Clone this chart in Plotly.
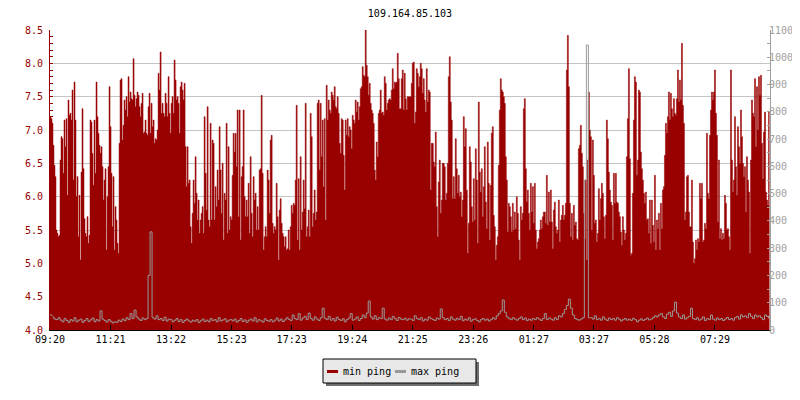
import plotly.graph_objects as go

title_text = "109.164.85.103"

tick_labels = ["09:20", "11:21", "13:22", "15:23", "17:23", "19:24",
               "21:25", "23:26", "01:27", "03:27", "05:28", "07:29"]
tick_minutes = [0, 121, 242, 363, 483, 604, 725, 846, 967, 1087, 1208, 1329]

series_names = ["min ping", "max ping"]

# min ping (left axis, ms) one sample every 2 minutes
min_ping = [
    7.2, 7.17, 7.1, 6.77, 6.47, 6.3, 5.5, 5.45, 5.4, 5.42,
    6.55, 6.9, 6.87, 6.35, 7.15, 6.75, 7.17, 6.02, 7.45, 7.22,
    7.25, 7.15, 7.6, 6.25, 7.72, 7.15, 6.0, 6.3, 5.4, 6.02,
    5.05, 6.37, 7.32, 6.42, 5.67, 5.45, 5.4, 5.7, 5.3, 5.42,
    7.15, 7.12, 6.65, 6.17, 7.15, 6.35, 7.72, 7.2, 6.95, 6.77,
    6.65, 6.75, 6.45, 5.95, 6.25, 6.42, 5.2, 6.0, 6.45, 7.65,
    7.05, 6.35, 5.55, 6.3, 5.2, 5.85, 5.65, 5.3, 5.15, 6.8,
    7.75, 7.77, 6.85, 7.07, 7.45, 7.3, 7.5, 7.2, 7.8, 7.42,
    7.57, 7.47, 7.45, 8.07, 7.52, 7.35, 7.47, 7.57, 7.52, 7.35,
    7.2, 7.4, 7.55, 6.95, 6.97, 7.15, 6.95, 6.92, 7.35, 7.55,
    6.95, 7.4, 7.05, 7.15, 6.8, 6.87, 6.85, 7.0, 7.85, 7.6,
    8.17, 7.25, 7.4, 7.25, 7.2, 7.55, 7.4, 7.2, 7.8, 7.25,
    6.95, 7.4, 7.5, 7.25, 8.05, 7.75, 7.45, 7.5, 7.4, 6.95,
    7.65, 7.72, 7.6, 7.45, 7.7, 6.75, 6.15, 6.75, 6.2, 6.25,
    5.55, 5.3, 5.75, 6.25, 5.9, 6.6, 6.05, 5.65, 5.95, 5.45,
    5.65, 5.75, 5.85, 5.45, 7.2, 6.35, 5.8, 7.35, 5.65, 5.55,
    7.1, 5.65, 6.85, 6.8, 5.65, 6.15, 5.85, 6.4, 5.95, 7.05,
    6.4, 5.75, 6.5, 5.35, 6.05, 5.95, 7.1, 5.45, 6.75, 5.5,
    5.7, 5.65, 6.32, 6.95, 6.67, 6.95, 6.45, 7.3, 5.7, 7.3,
    5.35, 6.3, 6.45, 7.3, 6.0, 5.7, 5.95, 5.7, 6.2, 5.45,
    6.6, 5.75, 5.4, 6.3, 5.95, 6.05, 5.5, 5.85, 5.5, 6.4,
    6.42, 7.52, 6.35, 5.2, 5.4, 5.55, 5.4, 6.4, 6.25, 5.75,
    6.85, 6.92, 5.6, 5.45, 5.55, 5.5, 6.2, 5.7, 5.05, 5.8,
    5.97, 5.6, 5.45, 5.4, 5.25, 5.4, 5.2, 5.22, 5.5, 5.2,
    5.55, 5.87, 5.75, 5.9, 5.87, 6.25, 7.37, 5.35, 6.27, 5.2,
    6.6, 5.5, 5.77, 6.25, 5.82, 7.4, 5.4, 5.55, 5.8, 5.4,
    7.25, 6.9, 5.55, 5.75, 6.1, 5.65, 5.77, 7.4, 7.45, 6.4,
    7.4, 6.6, 7.15, 6.15, 7.17, 5.65, 7.67, 7.15, 7.45, 7.3,
    7.25, 7.57, 7.52, 7.45, 7.65, 7.35, 7.32, 7.5, 7.25, 6.8,
    6.65, 7.17, 7.15, 6.62, 6.1, 7.15, 6.92, 7.17, 6.9, 7.05,
    7.0, 6.72, 7.22, 7.15, 7.1, 7.45, 7.27, 7.42, 7.15, 7.35,
    7.62, 7.65, 7.95, 7.82, 7.8, 8.5, 7.97, 7.8, 7.52, 7.7,
    7.4, 7.3, 7.25, 7.1, 6.4, 6.25, 6.82, 6.6, 7.25, 7.3,
    7.6, 7.25, 7.27, 7.22, 7.8, 7.7, 7.3, 7.4, 7.45, 7.47,
    7.45, 7.6, 7.92, 7.62, 7.72, 7.7, 7.72, 8.15, 7.77, 7.32,
    7.32, 7.77, 7.9, 7.3, 7.85, 7.47, 7.3, 7.5, 7.5, 7.5,
    7.5, 7.7, 8.0, 8.02, 7.1, 7.27, 7.92, 7.85, 7.65, 7.8,
    8.0, 7.92, 7.55, 7.77, 7.45, 7.27, 7.92, 7.42, 7.6, 7.57,
    6.1, 6.8, 6.8, 6.52, 6.45, 6.97, 5.85, 5.4, 6.22, 6.55,
    5.75, 5.95, 6.5, 6.5, 6.45, 5.95, 6.05, 6.5, 7.8, 8.1,
    7.42, 7.15, 5.97, 6.3, 5.97, 6.87, 6.42, 6.05, 6.32, 6.0,
    6.07, 5.7, 5.95, 7.2, 6.75, 7.02, 6.1, 5.15, 5.6, 6.75,
    6.52, 5.85, 5.62, 6.27, 5.65, 6.72, 6.25, 5.3, 7.42, 6.37,
    6.07, 6.42, 5.7, 6.15, 6.75, 5.92, 5.52, 6.82, 6.2, 5.35,
    6.17, 6.95, 7.05, 5.72, 5.55, 5.05, 5.27, 5.4, 6.47, 7.3,
    7.77, 7.6, 7.57, 7.5, 7.4, 6.6, 6.25, 5.47, 5.9, 5.85,
    5.7, 5.47, 5.9, 5.5, 5.77, 5.52, 6.0, 5.75, 5.35, 5.05,
    5.85, 5.65, 5.75, 7.32, 7.47, 6.42, 5.92, 6.1, 5.75, 5.5,
    6.2, 5.77, 6.15, 5.6, 6.2, 5.5, 5.22, 5.32, 5.37, 5.5,
    5.65, 5.52, 5.7, 5.77, 5.77, 5.6, 6.32, 5.57, 6.07, 5.62,
    6.1, 5.62, 5.22, 5.8, 5.92, 5.55, 5.45, 5.5, 5.95, 5.32,
    5.65, 5.72, 5.87, 5.65, 5.72, 5.9, 7.9, 8.42, 7.65, 5.9,
    5.4, 5.75, 5.35, 5.87, 5.57, 5.62, 5.37, 5.35, 6.72, 6.77,
    7.07, 6.65, 6.45, 5.75, 5.37, 6.25, 5.05, 6.55, 7.57, 7.0,
    6.9, 5.5, 6.85, 6.32, 5.6, 5.65, 5.32, 5.45, 6.12, 5.65,
    5.97, 6.2, 6.05, 5.7, 5.37, 5.72, 7.15, 6.87, 6.37, 6.1,
    5.92, 5.87, 5.35, 6.35, 5.9, 6.35, 5.92, 5.9, 5.77, 5.7,
    5.47, 5.27, 5.7, 5.5, 5.35, 5.45, 6.6, 7.17, 7.92, 6.57,
    5.12, 5.15, 6.05, 7.15, 7.8, 7.72, 6.32, 6.55, 7.6, 7.57,
    6.67, 6.42, 6.25, 6.05, 5.9, 6.07, 5.65, 5.67, 5.45, 5.95,
    5.3, 5.95, 5.57, 5.32, 6.32, 5.2, 5.65, 5.52, 5.75, 5.2,
    5.9, 5.52, 6.1, 6.15, 6.62, 7.1, 6.95, 7.2, 7.57, 7.15,
    7.55, 7.32, 7.2, 7.47, 7.25, 7.22, 7.47, 7.9, 7.42, 7.75,
    7.45, 8.3, 7.37, 7.1, 5.65, 5.77, 6.3, 6.32, 5.77, 5.55,
    5.55, 6.25, 5.32, 5.0, 5.07, 5.35, 5.2, 5.37, 5.32, 6.2,
    5.97, 6.2, 5.32, 5.35, 5.6, 5.52, 6.95, 6.05, 5.97, 6.92,
    7.3, 7.57, 7.45, 7.57, 7.9, 7.25, 6.92, 5.62, 6.55, 5.37,
    5.52, 5.35, 5.45, 5.37, 6.02, 5.9, 5.5, 5.52, 5.4, 5.2,
    7.9, 6.55, 6.07, 6.25, 7.2, 6.45, 6.02, 7.05, 6.75, 6.5,
    7.3, 6.9, 6.5, 6.3, 6.45, 5.77, 6.6, 6.25, 6.07, 5.15,
    6.55, 7.45, 7.25, 7.2, 7.77, 6.75, 7.65, 7.0, 7.8, 7.52,
    7.82, 6.8, 6.27, 6.97, 7.27, 6.07, 5.95, 5.87, 7.27, 7.27,
]

# max ping (right axis, ms) one sample every 4 minutes
max_ping = [
    55, 48, 40, 38, 45, 36, 30, 42, 35, 28,
    38, 33, 45, 30, 36, 40, 28, 35, 42, 31,
    37, 44, 30, 38, 33, 70, 40, 35, 29, 38,
    32, 26, 30, 28, 36, 31, 40, 34, 45, 38,
    60, 42, 73, 48, 40, 35, 44, 38, 42, 200,
    360, 45, 40, 52, 38, 42, 35, 47, 33, 40,
    38, 30, 36, 42, 31, 38, 28, 35, 40, 33,
    29, 36, 32, 38, 27, 34, 40, 31, 36, 30,
    42, 35, 38, 30, 45, 33, 37, 41, 30, 36,
    38, 33, 40, 29, 35, 42, 31, 37, 28, 36,
    40, 33, 45, 30, 38, 34, 29, 41, 35, 32,
    38, 30, 36, 44, 33, 40, 31, 37, 45, 39,
    35, 55, 42, 38, 60, 36, 44, 50, 38, 62,
    42, 36, 48, 40, 35, 45, 80, 43, 38, 50,
    36, 42, 33, 47, 39, 35, 41, 30, 38, 44,
    60, 36, 40, 48, 35, 42, 55, 45, 62, 106,
    48, 40, 52, 38, 45, 42, 80, 40, 36, 44,
    38, 50, 42, 35, 46, 40, 38, 43, 36, 41,
    40, 35, 52, 42, 38, 45, 33, 40, 36, 48,
    42, 38, 35, 44, 40, 77, 45, 38, 42, 35,
    48, 40, 36, 43, 38, 50, 34, 40, 36, 45,
    32, 38, 41, 35, 30, 38, 42, 36, 40, 33,
    38, 45, 40, 52, 60, 70, 110, 65, 48, 42,
    38, 45, 40, 36, 42, 48, 38, 44, 35, 40,
    36, 42, 38, 45, 40, 35, 42, 60, 38, 44,
    40, 36, 45, 38, 52, 48, 60, 75, 90, 113,
    80, 55, 42, 38, 36, 40, 45, 550, 1045, 45,
    45, 40, 52, 38, 42, 36, 48, 40, 35, 44,
    38, 42, 36, 45, 40, 33, 38, 42, 36, 40,
    35, 43, 38, 30, 36, 41, 35, 39, 44, 37,
    40, 45, 52, 48, 55, 60, 48, 42, 58, 65,
    50, 70, 102, 62, 48, 42, 55, 40, 45, 50,
    80, 42, 38, 45, 36, 40, 48, 35, 42, 38,
    55, 40, 36, 44, 38, 42, 35, 40, 46, 38,
    42, 36, 45, 50, 40, 55, 48, 52, 45, 60,
    50, 42, 55, 48, 52, 45, 38, 55, 50, 42,
]

min_minutes = [2 * i for i in range(len(min_ping))]
max_minutes = [4 * i for i in range(len(max_ping))]

RED = "#990000"
GRAY = "#999999"
AXGRAY = "#a0a0a0"
FONT = "DejaVu Sans Mono"

# The page body has an 8px margin, so the figure is 792x392 and its
# margins are shifted so that the plot area lands at x 50..770, y 30..330.
W, H = 792, 392
ML, MR, MT, MB = 42, 30, 22, 70

# pixel positions (in the 800x400 window) -> plot-area paper fractions
def px(xp):
    return (xp - 50) / 720.0

def py(yp):
    return (330 - yp) / 300.0

fig = go.Figure()
fig.add_trace(go.Scatter(
    x=min_minutes, y=min_ping, name=series_names[0], mode="lines",
    line=dict(color=RED, width=0.5, shape="hv"),
    fill="tozeroy", fillcolor=RED, yaxis="y", showlegend=False,
))
fig.add_trace(go.Scatter(
    x=max_minutes, y=max_ping, name=series_names[1], mode="lines",
    line=dict(color=GRAY, width=1, shape="hv"), yaxis="y2", showlegend=False,
))

# hand-drawn legend box with drop shadow
shapes = [
    dict(type="rect", xref="paper", yref="paper",
         x0=px(326), x1=px(479), y0=py(362), y1=py(386),
         fillcolor="#6e6e6e", line=dict(width=0), layer="above"),
    dict(type="rect", xref="paper", yref="paper",
         x0=px(323), x1=px(476), y0=py(359), y1=py(383),
         fillcolor="#e8e8e8", line=dict(color="black", width=1), layer="above"),
    dict(type="line", xref="paper", yref="paper",
         x0=px(327), x1=px(338), y0=py(371.5), y1=py(371.5),
         line=dict(color=RED, width=3), layer="above"),
    dict(type="line", xref="paper", yref="paper",
         x0=px(395), x1=px(406), y0=py(371.5), y1=py(371.5),
         line=dict(color=GRAY, width=3), layer="above"),
]
annotations = [
    dict(text=series_names[0], xref="paper", yref="paper", x=px(341), y=py(371),
         xanchor="left", yanchor="middle", showarrow=False,
         font=dict(family=FONT, size=10, color="black")),
    dict(text=series_names[1], xref="paper", yref="paper", x=px(409), y=py(371),
         xanchor="left", yanchor="middle", showarrow=False,
         font=dict(family=FONT, size=10, color="black")),
]

fig.update_layout(
    width=W, height=H,
    margin=dict(l=ML, r=MR, t=MT, b=MB, autoexpand=False),
    paper_bgcolor="white", plot_bgcolor="white",
    font=dict(family=FONT, size=10, color="black"),
    title=dict(text=title_text, x=0.5, xref="paper", y=1 - 5 / H,
               yref="container", yanchor="middle", xanchor="center",
               font=dict(family=FONT, size=10, color="black")),
    xaxis=dict(range=[0, 1439], tickvals=tick_minutes, ticktext=tick_labels,
               ticks="inside", ticklen=5, tickcolor="black", automargin=False,
               showline=True, linecolor="black", linewidth=1,
               showgrid=False, zeroline=False,
               tickfont=dict(family=FONT, size=10, color="black")),
    yaxis=dict(range=[4, 8.5], dtick=0.5, tick0=4, tickformat=".1f",
               ticks="inside", ticklen=3, tickcolor=RED, automargin=False,
               showline=True, linecolor=RED, linewidth=1,
               showgrid=True, gridcolor="#c4c4c4", gridwidth=1, zeroline=False,
               ticklabelstandoff=4,
               tickfont=dict(family=FONT, size=10, color=RED),
               minor=dict(dtick=0.1, tick0=4, ticks="inside", ticklen=3,
                          tickcolor=RED, showgrid=False)),
    yaxis2=dict(range=[0, 1100], dtick=100, overlaying="y", side="right",
                ticks="inside", ticklen=3, tickcolor=AXGRAY, automargin=False,
                showline=True, linecolor=AXGRAY, linewidth=1,
                showgrid=False, zeroline=False, ticklabelstandoff=-4,
                tickfont=dict(family=FONT, size=10, color=AXGRAY),
                minor=dict(dtick=50, ticks="inside", ticklen=3,
                           tickcolor=AXGRAY, showgrid=False)),
    showlegend=False,
    shapes=shapes,
    annotations=annotations,
)

fig.write_html("out.html")
